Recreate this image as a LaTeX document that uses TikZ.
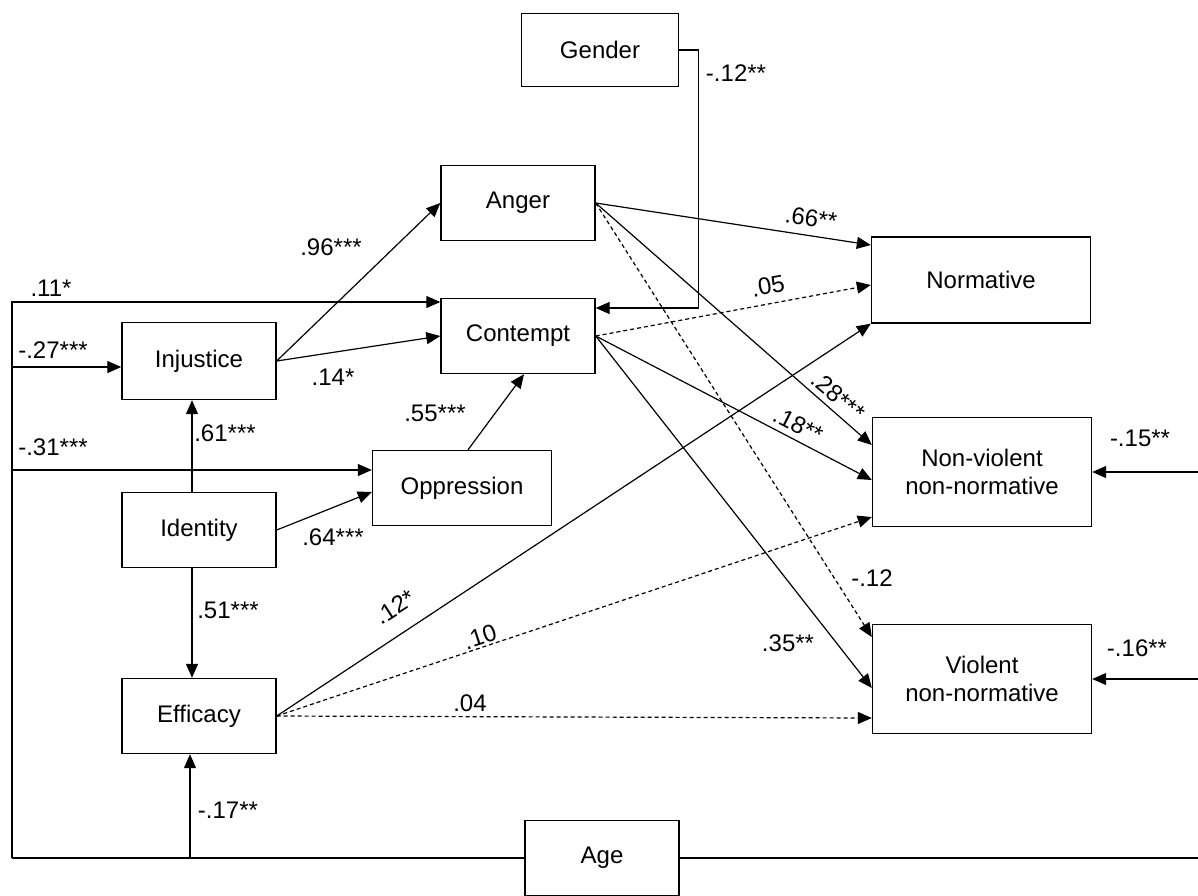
\documentclass[tikz,border=0pt]{standalone}
\usepackage{fontspec}
\setmainfont{Liberation Sans}
\usetikzlibrary{arrows.meta}
\tikzstyle{arrow} = [line width=0.6pt, -{Triangle[length=7pt,width=6pt]}]
\tikzstyle{dasharrow} = [arrow, dash pattern=on 2pt off 1.5pt]
\tikzstyle{var} = [rectangle, draw=black, line width=0.7pt, minimum width=77pt, minimum height=37.5pt, text centered, font=\fontsize{12}{14}\selectfont]
\tikzstyle{outcome} = [var, minimum width=109.5pt, align=center]
\tikzstyle{coef} = [font=\fontsize{12}{14}\selectfont, inner sep=0pt]
\begin{document}
\begin{tikzpicture}[x=0.5pt, y=-0.5pt]
\useasboundingbox (0,0) rectangle (1198,895);

% Predictors
\node (gender) [var, minimum width=78.5pt, minimum height=36.5pt] at (600,50) {Gender};
\node (anger) [var] at (518,203) {Anger};
\node (contempt) [var] at (518,336) {Contempt};
\node (injustice) [var, minimum height=38.5pt] at (199,361) {Injustice};
\node (oppression) [var, minimum width=89.5pt] at (462,488) {Oppression};
\node (identity) [var] at (199,530) {Identity};
\node (efficacy) [var] at (199,716) {Efficacy};
\node (age) [var] at (602,858) {Age};

% Outcomes
\node (normative) [outcome, minimum height=43pt] at (981,280) {Normative};
\node (nonviolent) [outcome, minimum height=54.5pt] at (982,472) {Non-violent\\non-normative};
\node (violent) [outcome, minimum height=54.5pt] at (982,679) {Violent\\non-normative};

\coordinate (leftcorner) at (12,858);
\coordinate (rightcorner) at (1205,858);
\coordinate (effin) at ([xshift=-4.5pt]efficacy.south);

% Age and Gender
\draw [line width=1pt] (age.west) -- (leftcorner);
\draw [arrow] (leftcorner) |- ([yshift=17pt]contempt.west);
\draw [arrow] (leftcorner) |- ([yshift=-3pt]injustice.west);
\draw [arrow] (leftcorner) |- ([yshift=9pt]oppression.west);
\draw [arrow] (effin |- age.west) -- (effin);
\draw [arrow] (age.east) -- (rightcorner) |- (violent.east);
\draw [arrow] (rightcorner) |- (nonviolent.east);
\draw [arrow] (gender.east) -- ++(19,0) |- ([yshift=14pt]contempt.east);

% Identity paths
\draw [arrow] ([xshift=-3.5pt]identity.north) -- ([xshift=-3.5pt]injustice.south);
\draw [arrow] ([xshift=-3.5pt]identity.south) -- ([xshift=-3.5pt]efficacy.north);
\draw [arrow] (identity.east) -- ([yshift=-2pt]oppression.west);
\draw [arrow] (injustice.east) -- (anger.west);
\draw [arrow] (injustice.east) -- (contempt.west);
\draw [arrow] ([xshift=3pt]oppression.north) -- ([xshift=3pt]contempt.south);

% Emotions to action
\draw [arrow] (anger.east) -- ([yshift=17.5pt]normative.west);
\draw [arrow] (anger.east) -- ([yshift=13.5pt]nonviolent.west);
\draw [dasharrow] (anger.east) -- ([yshift=21pt]violent.west);
\draw [dasharrow] (contempt.east) -- ([yshift=-2.5pt]normative.west);
\draw [arrow] (contempt.east) -- ([yshift=-4pt]nonviolent.west);
\draw [arrow] (contempt.east) -- ([yshift=-4.5pt]violent.west);

% Efficacy to action
\draw [arrow] (efficacy.east) -- (normative.south west);
\draw [dasharrow] (efficacy.east) -- ([yshift=-22.5pt]nonviolent.west);
\draw [dasharrow] (efficacy.east) -- ([yshift=-19.5pt]violent.west);

% Coefficients
\node (c11) [coef] at (51,288) {.11*};
\node (c27) [coef] at (53,350) {-.27***};
\node (c31) [coef] at (53,447) {-.31***};
\node (c96) [coef] at (331,247) {.96***};
\node (c14) [coef] at (333,377) {.14*};
\node (c55) [coef] at (435,413) {.55***};
\node (c61) [coef] at (225,433) {.61***};
\node (c64) [coef] at (333,537) {.64***};
\node (c51) [coef] at (228,610) {.51***};
\node (c17) [coef] at (228,810) {-.17**};
\node (c12g) [coef] at (736,73) {-.12**};
\node (c66) [coef, rotate=-8] at (811,218) {.66**};
\node (c05) [coef, rotate=10] at (768,286) {.05};
\node (c28) [coef, rotate=-40] at (838,396) {.28***};
\node (c18) [coef, rotate=-27] at (798,425) {.18**};
\node (c12a) [coef] at (872,578) {-.12};
\node (c35) [coef] at (788,643) {.35**};
\node (c15) [coef] at (1140,438) {-.15**};
\node (c16) [coef] at (1137,648) {-.16**};
\node (c12e) [coef, rotate=33] at (395,607) {.12*};
\node (c10) [coef, rotate=18] at (480,637) {.10};
\node (c04) [coef] at (470,703) {.04};

\end{tikzpicture}
\end{document}
